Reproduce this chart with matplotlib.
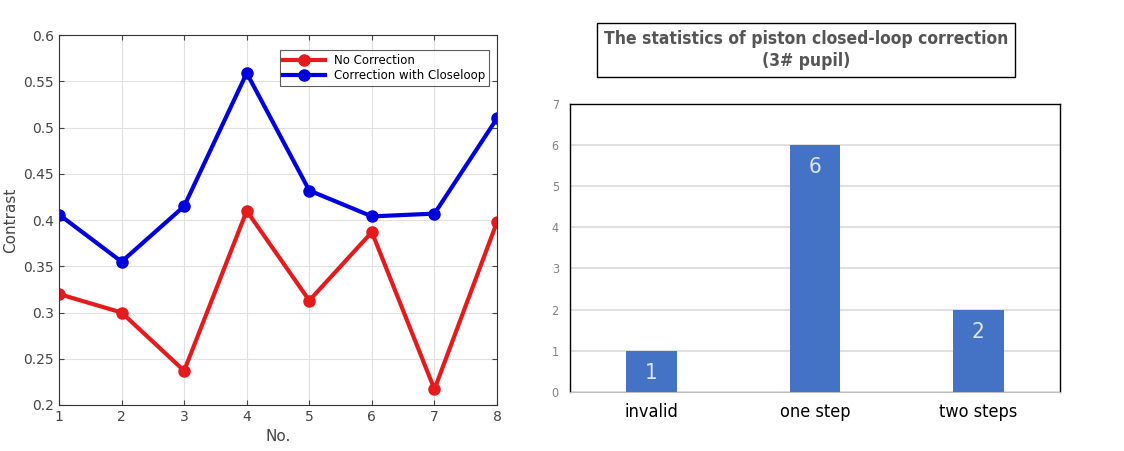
import matplotlib.pyplot as plt

# data
no_idx = [1, 2, 3, 4, 5, 6, 7, 8]
no_correction = [0.320, 0.300, 0.237, 0.410, 0.313, 0.387, 0.217, 0.398]
closeloop = [0.406, 0.355, 0.415, 0.559, 0.432, 0.404, 0.407, 0.510]

categories = ["invalid", "one step", "two steps"]
counts = [1, 6, 2]

narrow = dict(family="DejaVu Sans", stretch="condensed")

fig = plt.figure(figsize=(11.24, 4.51), dpi=100)

# left: line chart
ax1 = fig.add_axes([0.0525, 0.102, 0.3897, 0.820])
ax1.plot(no_idx, no_correction, color="#e41a1c", lw=3, marker="o", ms=8,
         label="No Correction")
ax1.plot(no_idx, closeloop, color="#0000dd", lw=3, marker="o", ms=8,
         label="Correction with Closeloop")
ax1.set_xlim(1, 8)
ax1.set_ylim(0.2, 0.6)
ax1.set_xticks(no_idx)
ax1.set_yticks([0.2, 0.25, 0.3, 0.35, 0.4, 0.45, 0.5, 0.55, 0.6])
ax1.set_yticklabels(["0.2", "0.25", "0.3", "0.35", "0.4", "0.45", "0.5", "0.55", "0.6"])
ax1.grid(True, color="#e0e0e0", lw=0.8)
ax1.tick_params(direction="in", labelsize=10, colors="#444444", top=True, right=True)
for s in ax1.spines.values():
    s.set_color("#333333")
ax1.set_xlabel("No.", fontsize=11, color="#444444")
ax1.set_ylabel("Contrast", fontsize=11, color="#444444")
leg = ax1.legend(loc="upper right", fontsize=8.5, frameon=True, fancybox=False,
                 edgecolor="#333333", handlelength=3.5, borderpad=0.3,
                 labelspacing=0.2, bbox_to_anchor=(0.995, 0.975))
leg.get_frame().set_linewidth(0.8)

# right: bar chart
ax2 = fig.add_axes([0.507, 0.131, 0.436, 0.639])
xs = range(len(categories))
ax2.bar(xs, counts, width=0.31, color="#4472c4", zorder=3)
for x, v in zip(xs, counts):
    ax2.text(x, v - 0.3, str(v), ha="center", va="top", color="#dce6f5",
             fontsize=16, zorder=4, **narrow)
ax2.set_xlim(-0.5, 2.5)
ax2.set_ylim(0, 7)
ax2.set_yticks(range(8))
ax2.yaxis.grid(True, color="#d9d9d9", lw=1.2, zorder=0)
ax2.set_xticks(list(xs))
ax2.set_xticklabels(categories, fontsize=13, **narrow)
ax2.tick_params(axis="x", length=0, pad=8)
ax2.tick_params(axis="y", length=0, labelsize=9, labelcolor="#808080", pad=8)
for lbl in ax2.get_yticklabels():
    lbl.set_stretch("condensed")
for k in ["top", "right", "left"]:
    ax2.spines[k].set_color("black")
    ax2.spines[k].set_linewidth(1.0)
ax2.spines["bottom"].set_color("#bfbfbf")

fig.text(0.717, 0.889, "The statistics of piston closed-loop correction\n(3# pupil)",
         ha="center", va="center", fontsize=12.5, color="#555555",
         fontweight="semibold", linespacing=1.3,
         bbox=dict(boxstyle="square,pad=0.4", fc="white", ec="black", lw=1.0),
         **narrow)

fig.savefig("out.png", dpi=100)
